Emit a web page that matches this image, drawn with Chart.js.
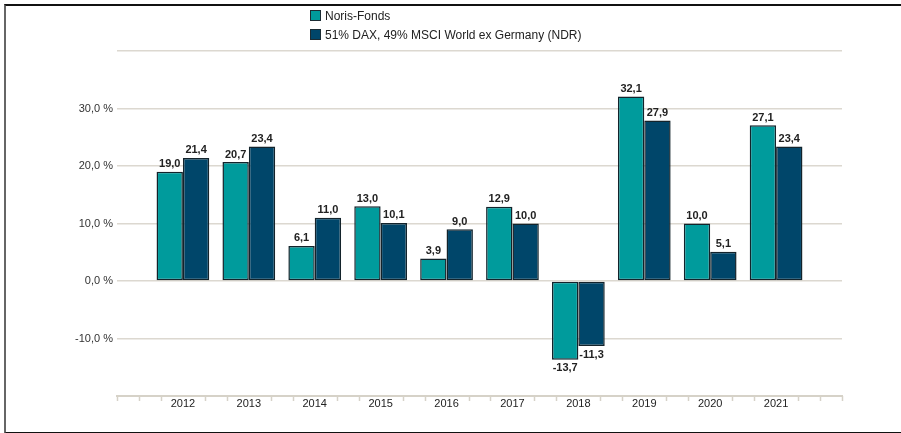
<!DOCTYPE html>
<html>
<head>
<meta charset="utf-8">
<script src="https://cdn.jsdelivr.net/npm/chart.js@4.4.1/dist/chart.umd.min.js"></script>
<style>
  html, body { margin: 0; padding: 0; background: #fff; }
  #wrap { position: relative; width: 901px; height: 433px; overflow: hidden; }
  #chart { position: absolute; left: 0; top: 0; }
  #frame {
    position: absolute; left: 4px; top: 4px; width: 900px; height: 426px;
    border-left: 2px solid #666; border-top: 2px solid #111; border-bottom: 2px solid #111;
    pointer-events: none;
  }
  #legend {
    position: absolute; left: 310px; top: 10px;
    font-family: "Liberation Sans", Arial, sans-serif; font-size: 12px; color: #222;
  }
  .item { height: 19px; line-height: 13px; white-space: nowrap; }
  .box { display: inline-block; width: 9px; height: 9px; border: 1px solid #1b2b33; vertical-align: -1px; margin-right: 4px; }
</style>
</head>
<body>
<div id="wrap">
  <canvas id="chart" width="901" height="433"></canvas>
  <div id="legend"></div>
  <div id="frame"></div>
</div>
<script>
// ========== データ ==========
const years = ["2012", "2013", "2014", "2015", "2016", "2017", "2018", "2019", "2020", "2021"];
const norisFonds = [19.0, 20.7, 6.1, 13.0, 3.9, 12.9, -13.7, 32.1, 10.0, 27.1];
const benchmark = [21.4, 23.4, 11.0, 10.1, 9.0, 10.0, -11.3, 27.9, 5.1, 23.4];
const seriesNames = ["Noris-Fonds", "51% DAX, 49% MSCI World ex Germany (NDR)"];
const yTicks = [-10, 0, 10, 20, 30];

const COLORS = ["#009b9c", "#00466a"];
const FONT = '"Liberation Sans", Arial, sans-serif';

// 左右に空の枠を1つずつ
const labels = [""].concat(years, [""]);
const pad = arr => [null].concat(arr, [null]);

function fmt(v, digits) {
  return v.toFixed(digits).replace(".", ",");
}

// ========== 凡例 ==========
const legend = document.getElementById("legend");
seriesNames.forEach((name, i) => {
  const item = document.createElement("div");
  item.className = "item";
  item.innerHTML = `<span class="box" style="background:${COLORS[i]}"></span>${name}`;
  legend.appendChild(item);
});

// ========== 値ラベル ==========
const valueLabels = {
  id: "valueLabels",
  afterDatasetsDraw(chart) {
    const ctx = chart.ctx;
    ctx.save();
    ctx.font = "bold 11px " + FONT;
    ctx.fillStyle = "#222";
    ctx.textAlign = "center";
    chart.data.datasets.forEach((ds, di) => {
      chart.getDatasetMeta(di).data.forEach((bar, i) => {
        const v = ds.data[i];
        if (v === null) return;
        if (v >= 0) {
          ctx.textBaseline = "bottom";
          ctx.fillText(fmt(v, 1), bar.x, bar.y - 2);
        } else {
          ctx.textBaseline = "top";
          ctx.fillText(fmt(v, 1), bar.x, bar.y + 3);
        }
      });
    });
    ctx.restore();
  }
};

// ========== X軸の細かい目盛り ==========
const minorTicks = {
  id: "minorTicks",
  afterDraw(chart) {
    const x = chart.scales.x;
    const y0 = chart.chartArea.bottom;
    const ctx = chart.ctx;
    const n = (labels.length - 1) * 3;
    ctx.save();
    ctx.strokeStyle = "#d6d2c8";
    ctx.lineWidth = 1.5;
    for (let i = 0; i <= n; i++) {
      if (i % 3 === 0 && i !== 0 && i !== n) continue;
      const px = Math.round(x.getPixelForDecimal(i / n)) + 0.5;
      ctx.beginPath();
      ctx.moveTo(px, y0);
      ctx.lineTo(px, y0 + 5);
      ctx.stroke();
    }
    ctx.restore();
  }
};

// ========== グラフ ==========
new Chart(document.getElementById("chart").getContext("2d"), {
  type: "bar",
  data: {
    labels: labels,
    datasets: [
      { label: seriesNames[0], data: pad(norisFonds), backgroundColor: COLORS[0] },
      { label: seriesNames[1], data: pad(benchmark), backgroundColor: COLORS[1] }
    ]
  },
  options: {
    responsive: false,
    animation: false,
    layout: { padding: { top: 51, right: 59, bottom: 0, left: 0 } },
    datasets: {
      bar: {
        categoryPercentage: 0.8,
        barPercentage: 1.0,
        borderWidth: 1.5,
        borderColor: "#13232b",
        borderSkipped: false
      }
    },
    plugins: {
      legend: { display: false },
      tooltip: { enabled: false }
    },
    scales: {
      x: {
        offset: false,
        grid: { display: false, drawTicks: false },
        border: { display: true, color: "#d6d2c8", width: 2 },
        ticks: {
          font: { family: FONT, size: 11 },
          color: "#222",
          padding: 1,
          autoSkip: false,
          maxRotation: 0
        },
        afterFit: s => { s.height = 37; }
      },
      y: {
        min: -20,
        max: 40,
        afterBuildTicks: s => {
          s.ticks = [-20, -10, 0, 10, 20, 30, 40].map(v => ({ value: v }));
        },
        grid: { color: "#dcd8d0", lineWidth: 1.5, drawTicks: false },
        border: { display: false },
        ticks: {
          font: { family: FONT, size: 11 },
          color: "#333",
          padding: 4,
          callback: v => yTicks.includes(v) ? fmt(v, 1) + " %" : ""
        },
        afterFit: s => { s.width = 117; }
      }
    }
  },
  plugins: [valueLabels, minorTicks]
});
</script>
</body>
</html>
